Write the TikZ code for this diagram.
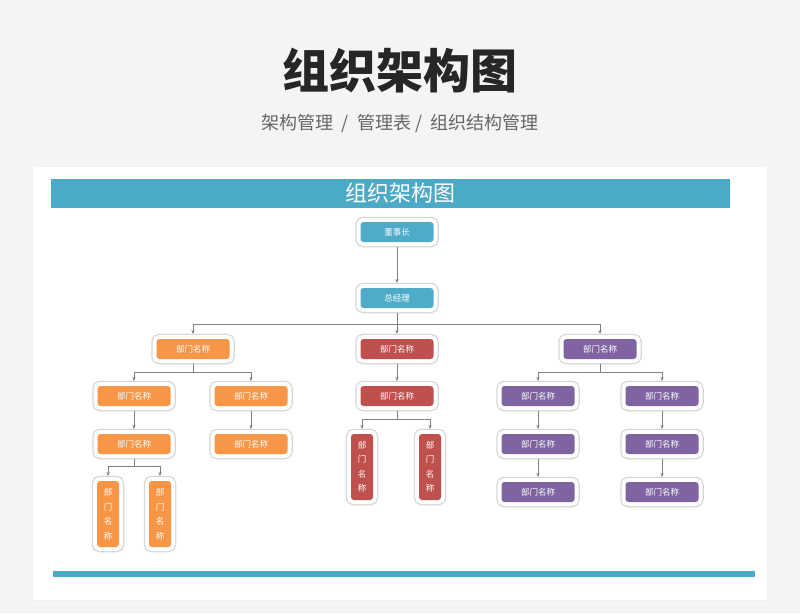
\documentclass[tikz,border=0pt]{standalone}
\usepackage{fontspec}
\setmainfont{Noto Sans CJK SC}
\usetikzlibrary{arrows.meta}
\definecolor{bgc}{HTML}{F3F4F6}
\definecolor{hdr}{HTML}{4BAAC6}
\definecolor{cblue}{HTML}{4FACC8}
\definecolor{corange}{HTML}{F79646}
\definecolor{cred}{HTML}{C0504D}
\definecolor{cpurple}{HTML}{8064A2}
\definecolor{ring}{HTML}{D6D6D6}
\definecolor{conncol}{HTML}{7F7F7F}
\tikzset{
  box/.style={fill=#1, rounded corners=3pt, text=white, font=\fontsize{8.5}{10}\selectfont,
    inner sep=0pt, outer sep=5pt,
    preaction={draw=ring, line width=10.5pt},
    preaction={draw=white, line width=8pt}},
  hbox/.style={box=#1, minimum width=73pt, minimum height=20pt},
  vbox/.style={box=#1, minimum width=22pt, minimum height=66pt, align=center,
    font=\fontsize{8.5}{14.5}\selectfont},
  conn/.style={draw=conncol, line width=0.6pt, -{Stealth[length=4pt,width=3.2pt]}}
}
\begin{document}
\begin{tikzpicture}[x=1pt,y=-1pt]
\useasboundingbox (0,0) rectangle (800,613);
\fill[bgc] (0,0) rectangle (800,613);
% card shadow
\fill[black!3] (29,165) rectangle (771,605);
\fill[black!5] (31,166) rectangle (769,602);
\fill[white] (33,167) rectangle (767,600);
% header
\node[font=\bfseries\fontsize{47}{50}\selectfont, text=black!85] (title) at (400,71) {组织架构图};
\node[font=\fontsize{18}{20}\selectfont, text=black!60] (sub) at (400,124) {架构管理 \ / \ 管理表 / \ 组织结构管理};
\fill[hdr] (51,179) rectangle (730,208);
\node[font=\fontsize{22}{24}\selectfont, text=white] (bartitle) at (400,193) {组织架构图};
\fill[hdr] (53,571) rectangle (755,577);
% nodes
\node[hbox=cblue] (dsz) at (397,232) {董事长};
\node[hbox=cblue] (zjl) at (397,298) {总经理};
\node[hbox=corange] (o1) at (193,349) {部门名称};
\node[hbox=cred] (r1) at (397,349) {部门名称};
\node[hbox=cpurple] (p1) at (600,349) {部门名称};
\node[hbox=corange] (o2a) at (134,396) {部门名称};
\node[hbox=corange] (o2b) at (251,396) {部门名称};
\node[hbox=corange] (o3a) at (134,444) {部门名称};
\node[hbox=corange] (o3b) at (251,444) {部门名称};
\node[vbox=corange] (o4a) at (108,514) {部\\门\\名\\称};
\node[vbox=corange] (o4b) at (160,514) {部\\门\\名\\称};
\node[hbox=cred] (r2) at (397,396) {部门名称};
\node[vbox=cred] (r3a) at (362,467) {部\\门\\名\\称};
\node[vbox=cred] (r3b) at (430,467) {部\\门\\名\\称};
\node[hbox=cpurple] (p2a) at (538,396) {部门名称};
\node[hbox=cpurple] (p2b) at (662,396) {部门名称};
\node[hbox=cpurple] (p3a) at (538,444) {部门名称};
\node[hbox=cpurple] (p3b) at (662,444) {部门名称};
\node[hbox=cpurple] (p4a) at (538,492) {部门名称};
\node[hbox=cpurple] (p4b) at (662,492) {部门名称};
% connectors
\draw[conn] (dsz) -- (zjl);
\draw[conn] (zjl) -- (r1);
\draw[conn] (zjl.south) -- ++(0,11) -| (o1.north);
\draw[conn] (zjl.south) -- ++(0,11) -| (p1.north);
\draw[conn] (o1.south) -- ++(0,8) -| (o2a.north);
\draw[conn] (o1.south) -- ++(0,8) -| (o2b.north);
\draw[conn] (o2a) -- (o3a);
\draw[conn] (o2b) -- (o3b);
\draw[conn] (o3a.south) -- ++(0,7) -| (o4a.north);
\draw[conn] (o3a.south) -- ++(0,7) -| (o4b.north);
\draw[conn] (r1) -- (r2);
\draw[conn] (r2.south) -- ++(0,8) -| (r3a.north);
\draw[conn] (r2.south) -- ++(0,8) -| (r3b.north);
\draw[conn] (p1.south) -- ++(0,8) -| (p2a.north);
\draw[conn] (p1.south) -- ++(0,8) -| (p2b.north);
\draw[conn] (p2a) -- (p3a);
\draw[conn] (p2b) -- (p3b);
\draw[conn] (p3a) -- (p4a);
\draw[conn] (p3b) -- (p4b);
\end{tikzpicture}
\end{document}
